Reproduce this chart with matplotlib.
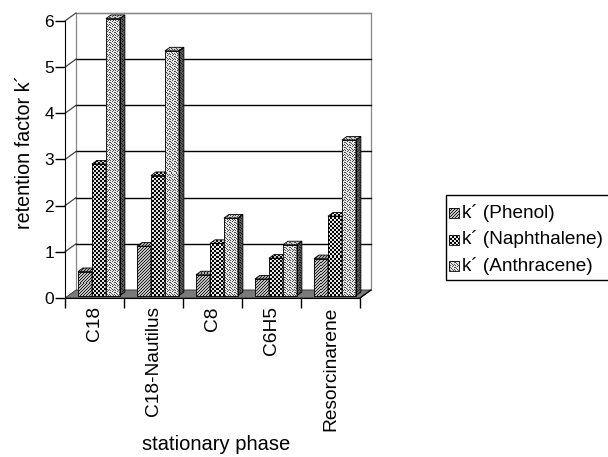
import numpy as np
import matplotlib.pyplot as plt
from matplotlib.patches import Polygon, Rectangle

plt.rcParams['font.family'] = ['Liberation Sans', 'DejaVu Sans']

# data
categories = ["C18", "C18-Nautilus", "C8", "C6H5", "Resorcinarene"]
phenol = [0.52, 1.07, 0.45, 0.36, 0.80]
naphthalene = [2.85, 2.60, 1.13, 0.81, 1.72]
anthracene = [6.00, 5.30, 1.68, 1.10, 3.37]
series_labels = ["k´ (Phenol)", "k´ (Naphthalene)", "k´ (Anthracene)"]
y_ticks = [0, 1, 2, 3, 4, 5, 6]

W, H = 608, 457
PX_X, PX_Y = 59.0, 46.17      # pixels per category / per unit of k'
XMAX, YMAX = 5.3, 6.3
DX, DY = 11 / PX_X, 8 / PX_Y  # depth of the 3d box
BAR_W = 0.237
GROUP_OFF = 0.22
BASE = 0.3 * DY
DDX, DDY = 0.45 * DX, 0.45 * DY

# irregular stipple tile for the anthracene fill (0 = dark dot)
STIPPLE = np.array([[0, 1, 1, 0, 1],
                    [1, 1, 0, 1, 1],
                    [0, 1, 1, 1, 0],
                    [1, 0, 1, 1, 1],
                    [1, 1, 0, 1, 0]])


def pattern(X, Y, kind):
    X = X.astype(int)
    Y = Y.astype(int)
    if kind == 0:
        return np.where((X + Y) % 3 == 0, 0.12, 0.75)
    if kind == 1:
        return np.where(((X // 2) + (Y // 2)) % 2 == 0, 0.0, 0.9)
    return np.where(STIPPLE[Y % 5, X % 5] == 0, 0.3, 0.9)


def texture(ax, verts, kind, shade=1.0, z=3):
    verts = np.asarray(verts, dtype=float)
    poly = Polygon(verts, closed=True, facecolor='none', edgecolor='none',
                   zorder=z, clip_on=False)
    ax.add_patch(poly)
    disp = ax.transData.transform(verts)
    x0, y0 = np.floor(disp.min(0))
    x1, y1 = np.ceil(disp.max(0))
    cols = np.arange(x0, x1)
    rows = np.arange(H - y1, H - y0)
    X, Y = np.meshgrid(cols, rows)
    arr = np.clip(pattern(X, Y, kind) * shade, 0, 1)
    inv = ax.transData.inverted()
    (dx0, dy0), (dx1, dy1) = inv.transform([(x0, y0), (x1, y1)])
    im = ax.imshow(arr, extent=[dx0, dx1, dy0, dy1], cmap='gray', vmin=0, vmax=1,
                   interpolation='nearest', aspect='auto', origin='upper', zorder=z)
    im.set_clip_on(True)
    im.set_clip_box(None)
    im.set_clip_path(poly)
    ax.add_patch(Polygon(verts, closed=True, fill=False, edgecolor='black',
                         lw=0.6, zorder=z + 0.01, clip_on=False))


fig = plt.figure(figsize=(6.08, 4.57), dpi=100)
ax = fig.add_axes([65 / W, 1 - 298 / H, XMAX * PX_X / W, YMAX * PX_Y / H])
ax.set_xlim(0, XMAX)
ax.set_ylim(0, YMAX)
ax.set_autoscale_on(False)
ax.patch.set_visible(False)

n = len(categories)
# floor
ax.add_patch(Polygon([(0, 0), (n, 0), (n + DX, DY), (DX, DY)], closed=True,
                     facecolor='#7a7a7a', edgecolor='#333333', lw=0.6, zorder=1))
# back wall and grid
ax.add_patch(Rectangle((DX, DY), n, y_ticks[-1], facecolor='white',
                       edgecolor='#888888', lw=0.9, zorder=0.5, clip_on=False))
for k in y_ticks[1:]:
    col = 'black' if k < y_ticks[-1] else '#888888'
    ax.plot([DX, n + DX], [k + DY, k + DY], color=col, lw=1.0, zorder=0.8, clip_on=False)
    ax.plot([0, DX], [k, k + DY], color='#444444', lw=0.9, zorder=0.8, clip_on=False)
ax.plot([n, n + DX], [0, DY], color='black', lw=0.9, zorder=1.2)

# bars
series = [phenol, naphthalene, anthracene]
for i in range(n):
    for s, vals in enumerate(series):
        v = vals[i]
        x0 = i + GROUP_OFF + s * BAR_W
        x1 = x0 + BAR_W
        b, t = BASE, BASE + v
        side = [(x1, b), (x1 + DDX, b + DDY), (x1 + DDX, t + DDY), (x1, t)]
        top = [(x0, t), (x1, t), (x1 + DDX, t + DDY), (x0 + DDX, t + DDY)]
        front = [(x0, b), (x1, b), (x1, t), (x0, t)]
        z = 3 + i * 0.1 + s * 0.02
        texture(ax, side, s, 0.4, z)
        texture(ax, top, s, 0.9, z)
        texture(ax, front, s, 1.0, z + 0.005)

# axes
for sp in ['top', 'right']:
    ax.spines[sp].set_visible(False)
ax.spines['left'].set_bounds(0, y_ticks[-1])
ax.spines['bottom'].set_bounds(0, n)
ax.spines['left'].set_zorder(6)
ax.spines['bottom'].set_zorder(6)
ax.set_yticks(y_ticks)
ax.tick_params(axis='y', length=7, pad=1, labelsize=12.5, width=1)
ax.set_xticks(np.arange(n + 1))
ax.set_xticklabels([])
ax.set_xticks(np.arange(n) + 0.5, minor=True)
ax.set_xticklabels(categories, minor=True)
ax.tick_params(axis='x', which='major', length=7, width=1)
ax.tick_params(axis='x', which='minor', length=0, pad=6, labelsize=13.8, labelrotation=90)

fig.text(25 / W, 1 - 152 / H, "retention factor k´", rotation=90,
         ha='center', va='center', fontsize=14.2)
fig.text(216 / W, 1 - 445 / H, "stationary phase", ha='center', va='center', fontsize=14.5)

# legend drawn in pixel space
lax = fig.add_axes([0, 0, 1, 1])
lax.set_xlim(0, W)
lax.set_ylim(0, H)
lax.set_autoscale_on(False)
lax.axis('off')
lax.set_zorder(5)
lax.add_patch(Rectangle((446, H - 280), 200, 85, facecolor='white',
                        edgecolor='black', lw=1, zorder=1))
for s, lab in enumerate(series_labels):
    yc = H - (213 + s * 26.5)
    sq = [(449, yc - 5), (459, yc - 5), (459, yc + 5), (449, yc + 5)]
    texture(lax, sq, s, 1.0, 2)
    lax.text(462, yc, lab, va='center', ha='left', fontsize=13.7, zorder=3)

fig.savefig('out.png', dpi=100)
